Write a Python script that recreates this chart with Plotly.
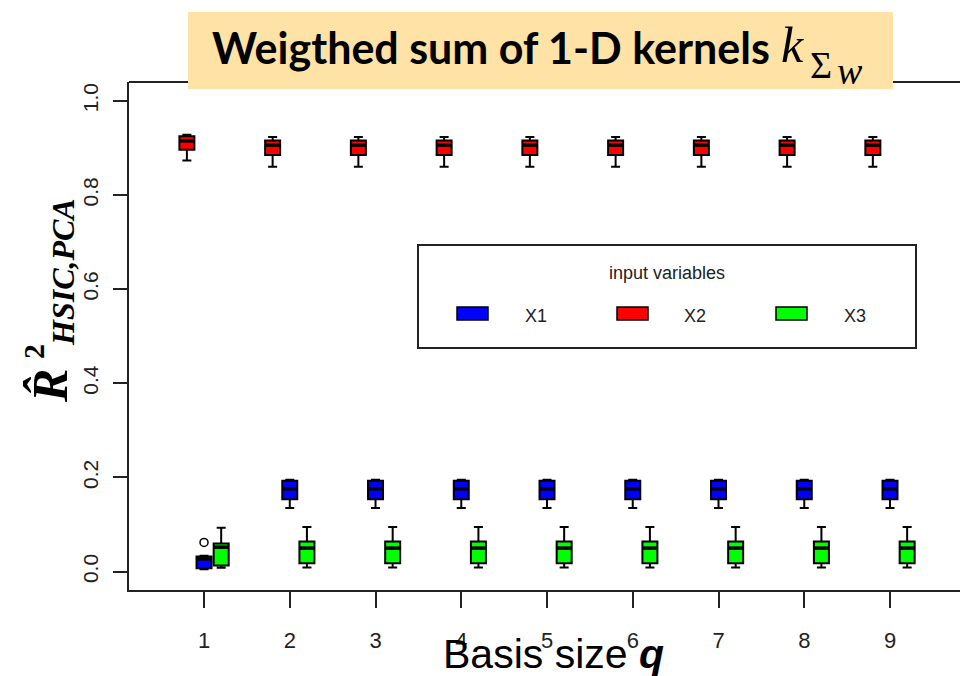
import plotly.graph_objects as go

# ---------------- data ----------------
basis_q = [1, 2, 3, 4, 5, 6, 7, 8, 9]

# X1 (blue)
x1_low = [0.005] + [0.135] * 8
x1_q1 = [0.007] + [0.154] * 8
x1_med = [0.027] + [0.176] * 8
x1_q3 = [0.032] + [0.193] * 8
x1_up = [0.034] + [0.195] * 8
x1_outlier_q = [1]
x1_outlier_v = [0.062]

# X2 (red)
x2_low = [0.873] + [0.860] * 8
x2_q1 = [0.896] + [0.885] * 8
x2_med = [0.915] + [0.906] * 8
x2_q3 = [0.925] + [0.916] * 8
x2_up = [0.928] + [0.923] * 8

# X3 (green)
x3_low = [0.008] + [0.009] * 8
x3_q1 = [0.013] + [0.018] * 8
x3_med = [0.052] + [0.050] * 8
x3_q3 = [0.060] + [0.064] * 8
x3_up = [0.093] + [0.095] * 8

y_ticks = [0.0, 0.2, 0.4, 0.6, 0.8, 1.0]
y_ticktext = ["0.0", "0.2", "0.4", "0.6", "0.8", "1.0"]

series = [
    ("X1", "#0000FF", 0.0, x1_low, x1_q1, x1_med, x1_q3, x1_up),
    ("X2", "#FF0000", -0.2, x2_low, x2_q1, x2_med, x2_q3, x2_up),
    ("X3", "#00FF00", 0.2, x3_low, x3_q1, x3_med, x3_q3, x3_up),
]
BOXW = 0.175

fig = go.Figure()
for name, col, off, lo, a, m, b, up in series:
    pos = [q + off for q in basis_q]
    fig.add_trace(go.Box(
        name=name, x=pos, q1=a, median=m, q3=b, lowerfence=lo, upperfence=up,
        width=BOXW, whiskerwidth=0.6, fillcolor=col,
        line=dict(color="black", width=2), boxpoints=False, showlegend=False,
        hoverinfo="skip"))
    # thick median line as in R
    mx, my = [], []
    for p, v in zip(pos, m):
        mx += [p - BOXW / 2, p + BOXW / 2, None]
        my += [v, v, None]
    fig.add_trace(go.Scatter(x=mx, y=my, mode="lines",
                             line=dict(color="black", width=3.5),
                             showlegend=False, hoverinfo="skip"))

fig.add_trace(go.Scatter(x=x1_outlier_q, y=x1_outlier_v, mode="markers",
                         marker=dict(symbol="circle-open", size=8, color="black",
                                     line=dict(width=1.5)),
                         showlegend=False, hoverinfo="skip"))

# ---------------- layout geometry ----------------
L, R_, T, B = 129, 960, 82, 590
W, H = R_ - L, B - T


def px(x):
    return (x - L) / W


def py(y):
    return (B - y) / H


def ann(x, y, text, font, xa="center", ya="middle", **kw):
    d = dict(x=px(x), y=py(y), xref="paper", yref="paper", text=text,
             showarrow=False, xanchor=xa, yanchor=ya, font=font)
    d.update(kw)
    return d


shapes = [
    # top frame line
    dict(type="line", xref="paper", yref="paper", x0=0, x1=1, y0=1, y1=1,
         line=dict(color="#222", width=2), layer="below"),
    # title box
    dict(type="rect", xref="paper", yref="paper", x0=px(188), x1=px(893),
         y0=py(89), y1=py(12), fillcolor="#FFE2A6", line=dict(width=0),
         layer="above"),
    # legend box
    dict(type="rect", xref="paper", yref="paper", x0=px(418), x1=px(916),
         y0=py(348), y1=py(245), fillcolor="white",
         line=dict(color="#222", width=2), layer="above"),
]
leg_rects = [(457, 488), (617, 648), (776, 807)]
leg_lbl_x = [536, 695, 855]
annotations = []
for (x0, x1), lx, (name, col, *_rest) in zip(leg_rects, leg_lbl_x, series):
    shapes.append(dict(type="rect", xref="paper", yref="paper", x0=px(x0), x1=px(x1),
                       y0=py(320), y1=py(307), fillcolor=col,
                       line=dict(color="black", width=1.5), layer="above"))
    annotations.append(ann(lx, 316, name,
                           dict(family="Liberation Sans", size=18, color="#222")))
annotations.append(ann(667, 273, "input variables",
                       dict(family="Liberation Sans", size=18, color="#222")))

# title pieces
annotations += [
    ann(210, 48, "<b>Weigthed sum of 1-D kernels</b>",
        dict(family="Lato", size=43, color="black"), xa="left"),
    ann(779, 45, "<i>k</i>", dict(family="Liberation Serif", size=50, color="black"),
        xa="left"),
    ann(808, 65, "Σ", dict(family="Liberation Serif", size=38, color="black"),
        xa="left"),
    ann(835, 71, "<i>w</i>", dict(family="Liberation Serif", size=38, color="black"),
        xa="left"),
]

# y-axis title pieces (rotated)
annotations += [
    ann(50, 386, "<b><i>R̂</i></b>",
        dict(family="Liberation Serif", size=50, color="black"), textangle=-90),
    ann(33, 352, "<b>2</b>",
        dict(family="Liberation Serif", size=30, color="black"), textangle=-90),
    ann(63, 272, "<b><i>HSIC,PCA</i></b>",
        dict(family="Liberation Serif", size=32, color="black"), textangle=-90),
]

# x-axis title
annotations.append(ann(553, 679, "Basis size <b><i>q</i></b>",
                       dict(family="Liberation Sans", size=41, color="black"),
                       ya="bottom"))

fig.update_layout(
    width=960, height=676,
    margin=dict(l=L, r=960 - R_, t=T, b=676 - B, pad=0),
    paper_bgcolor="white", plot_bgcolor="white",
    showlegend=False,
    shapes=shapes, annotations=annotations,
    xaxis=dict(range=[0.125, 9 + (R_ - 890) / 85.75], tickvals=basis_q,
               ticktext=[str(q) for q in basis_q],
               showgrid=False, zeroline=False, showline=True,
               linecolor="#222", linewidth=2, ticks="outside", ticklen=16,
               tickwidth=1.5, tickcolor="#222", ticklabelstandoff=14,
               tickfont=dict(family="Liberation Sans Narrow, Liberation Sans", size=22,
                             color="#222")),
    yaxis=dict(range=[-0.039, 1.040], tickvals=y_ticks, ticktext=y_ticktext,
               showgrid=False, zeroline=False, showline=True,
               linecolor="#222", linewidth=2, ticks="outside", ticklen=14,
               tickwidth=1.5, tickcolor="#222", tickangle=-90, ticklabelstandoff=7,
               tickfont=dict(family="Liberation Sans", size=21, color="#222")),
)

fig.write_html("out.html")
